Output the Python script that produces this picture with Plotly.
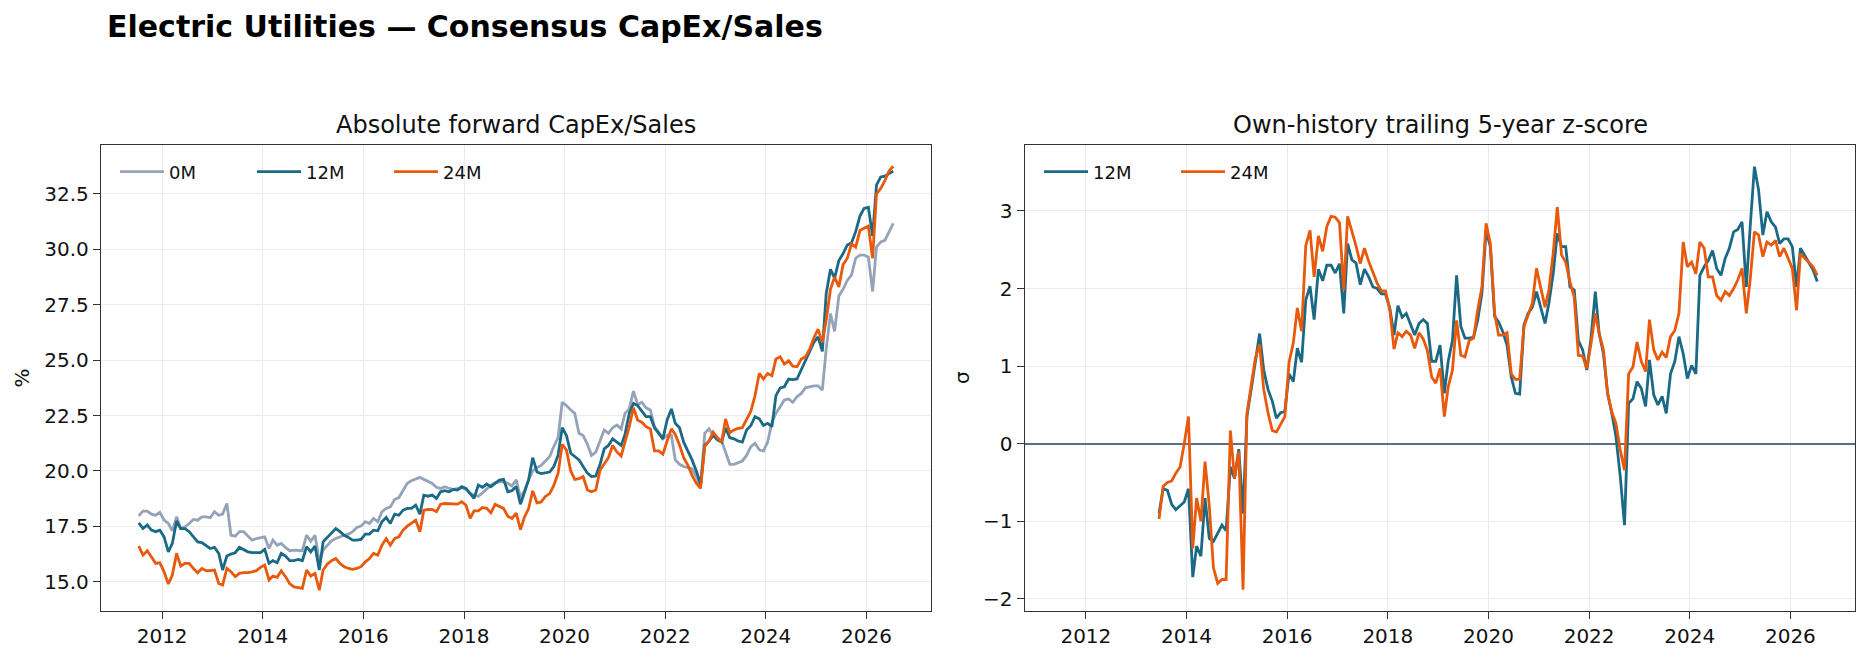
import plotly.graph_objects as go

# ---------------- data ----------------
start_year, start_month, n_months = 2011, 7, 181
dates = []
for i in range(n_months):
    mm = start_month - 1 + i
    dates.append(f"{start_year + mm // 12}-{mm % 12 + 1:02d}-15")

capex_0m = [
    17.98, 18.19, 18.19, 18.05, 18.0, 18.13, 17.78, 17.63, 17.3, 17.93,
    17.4, 17.48, 17.63, 17.81, 17.78, 17.93, 17.93, 17.89, 18.16, 18.0,
    18.05, 18.53, 17.1, 17.06, 17.26, 17.26, 17.06, 16.88, 16.95, 17.0,
    17.03, 16.5, 16.88, 16.65, 16.73, 16.55, 16.4, 16.43, 16.4, 16.4,
    17.1, 16.83, 17.1, 15.9, 16.43, 16.65, 16.85, 16.95, 17.03, 17.1,
    17.15, 17.26, 17.45, 17.51, 17.71, 17.63, 17.86, 17.71, 18.16, 18.31,
    18.38, 18.71, 18.8, 19.14, 19.44, 19.56, 19.62, 19.71, 19.62, 19.51,
    19.44, 19.26, 19.21, 19.29, 19.21, 19.17, 19.21, 19.24, 19.17, 18.98,
    18.91, 18.86, 19.01, 19.21, 19.36, 19.47, 19.51, 19.51, 19.44, 19.32,
    19.6, 18.8, 19.1, 19.6, 20.0, 20.15, 20.25, 20.45, 20.65, 21.1,
    21.5, 23.1, 22.95, 22.75, 22.6, 21.7, 21.6, 21.2, 20.7, 20.85,
    21.35, 21.85, 21.7, 21.95, 22.07, 21.9, 22.6, 22.8, 23.6, 23.0,
    23.1, 22.85, 22.75, 22.0, 21.75, 21.45, 21.6, 21.6, 20.5, 20.3,
    20.2, 20.15, 20.1, 19.75, 19.3, 21.7, 21.9, 21.6, 21.5, 21.35,
    20.8, 20.3, 20.3, 20.36, 20.45, 20.7, 21.1, 21.25, 20.95, 20.9,
    21.3, 22.2, 22.6, 22.9, 23.2, 23.25, 23.1, 23.35, 23.5, 23.75,
    23.8, 23.84, 23.84, 23.65, 25.5, 27.1, 26.3, 27.9, 28.2, 28.6,
    28.85, 29.6, 29.74, 29.74, 29.66, 28.1, 30.1, 30.34, 30.41, 30.79,
    31.17,
]

capex_12m = [
    17.66, 17.4, 17.56, 17.33, 17.26, 17.33, 17.03, 16.35, 16.73, 17.74,
    17.4, 17.4, 17.26, 17.03, 16.8, 16.77, 16.65, 16.5, 16.55, 16.28,
    15.53, 16.16, 16.25, 16.31, 16.55, 16.46, 16.35, 16.31, 16.31, 16.31,
    16.46, 15.83, 15.95, 15.86, 16.28, 16.16, 15.95, 15.95, 16.01, 15.95,
    16.58, 16.35, 16.61, 15.53, 16.8, 17.0, 17.21, 17.4, 17.26, 17.1,
    17.0, 16.88, 16.88, 16.91, 17.15, 17.15, 17.33, 17.3, 17.71, 17.9,
    17.63, 18.05, 18.0, 18.23, 18.31, 18.31, 18.46, 18.05, 18.91, 18.86,
    18.91, 18.76, 19.06, 19.11, 19.06, 19.17, 19.14, 19.29, 19.21, 18.98,
    18.76, 19.36, 19.26, 19.41, 19.29, 19.44, 19.59, 19.62, 19.06, 19.11,
    19.3, 18.5, 19.0, 19.6, 20.6, 19.95, 19.88, 19.92, 19.95, 20.2,
    20.7, 21.95, 21.6, 20.8, 20.65, 20.5, 20.2, 19.9, 19.75, 19.77,
    20.3, 21.0, 21.15, 21.45, 21.3, 21.15, 21.65, 22.6, 23.05, 22.95,
    22.7, 22.45, 22.45, 21.95, 21.7, 21.45, 22.3, 22.8, 22.15, 21.95,
    21.3, 20.9, 20.5, 20.0, 19.4, 21.15, 21.35, 21.6, 21.4, 21.3,
    21.95, 21.5, 21.45, 21.35, 21.3, 21.85, 22.05, 22.45, 22.35, 22.05,
    22.15, 22.0, 23.4, 23.75, 23.8, 24.15, 24.12, 24.15, 24.55, 24.95,
    25.4, 25.8, 26.05, 25.4, 28.0, 29.1, 28.7, 29.5, 29.8, 30.2,
    30.3, 30.8, 31.5, 31.85, 31.9, 30.6, 32.9, 33.27, 33.3, 33.42,
    33.53,
]

capex_24m = [
    16.61, 16.2, 16.4, 16.1, 15.83, 15.86, 15.45, 14.9, 15.3, 16.28,
    15.71, 15.83, 15.83, 15.6, 15.41, 15.6, 15.5, 15.5, 15.53, 14.92,
    14.85, 15.6, 15.45, 15.23, 15.38, 15.41, 15.41, 15.45, 15.5, 15.65,
    15.75, 15.08, 15.26, 15.2, 15.5, 15.23, 14.92, 14.77, 14.74, 14.7,
    15.53, 15.26, 15.38, 14.62, 15.53, 15.8, 15.95, 16.05, 15.83, 15.68,
    15.6, 15.56, 15.6, 15.68, 15.9, 16.05, 16.28, 16.2, 16.65, 16.95,
    16.65, 16.95, 17.03, 17.33, 17.51, 17.66, 17.78, 17.26, 18.23, 18.26,
    18.26, 18.16, 18.5, 18.53, 18.53, 18.53, 18.5, 18.61, 18.46, 17.86,
    18.2, 18.2, 18.35, 18.31, 18.11, 18.49, 18.38, 18.31, 17.96, 17.86,
    18.1, 17.35, 17.9, 18.3, 19.1, 18.56, 18.6, 18.85, 18.98, 19.35,
    19.89, 21.2, 20.94, 20.0, 19.62, 19.65, 19.75, 19.14, 19.06, 19.14,
    20.04, 20.3, 20.6, 21.15, 20.86, 20.67, 21.3, 22.0, 22.85, 22.29,
    22.2, 22.0, 21.9, 20.91, 20.91, 20.76, 21.35, 21.9, 21.65, 21.17,
    20.6, 20.25, 19.8, 19.45, 19.21, 21.1, 21.35, 21.75, 21.5, 21.3,
    22.35, 21.72, 21.85, 21.92, 21.95, 22.35, 22.7, 23.4, 24.4, 24.15,
    24.4, 24.3, 25.05, 25.15, 24.82, 24.97, 24.73, 24.7, 25.05, 25.15,
    25.5, 26.0, 26.4, 25.8, 26.8, 28.2, 28.75, 28.3, 29.3, 29.6,
    30.25, 30.1, 30.85, 30.95, 31.05, 29.6, 32.5, 32.75, 33.1, 33.55,
    33.75,
]

# z-scores begin at month index 23 (first full window)
z_start = 23
zscore_12m = [
    -0.9, -0.58, -0.6, -0.78, -0.85, -0.8, -0.75, -0.58, -1.72, -1.32,
    -1.45, -0.7, -1.22, -1.26, -1.15, -1.05, -1.12, -0.3, -0.45, -0.07,
    -0.9, 0.35, 0.7, 1.05, 1.42, 0.95, 0.7, 0.55, 0.33, 0.4,
    0.42, 0.9, 0.8, 1.23, 1.05, 1.85, 2.03, 1.6, 2.25, 2.1,
    2.3, 2.3, 2.2, 2.32, 1.68, 2.58, 2.37, 2.33, 2.05, 2.25,
    2.15, 2.02, 2.0, 1.93, 1.93, 1.75, 1.4, 1.78, 1.63, 1.68,
    1.55, 1.4, 1.55, 1.6, 1.55,
    1.06, 1.06, 1.27, 0.65, 1.06, 1.33, 2.17, 1.51, 1.36, 1.36,
    1.37, 1.59, 1.94, 2.75, 2.54, 1.64, 1.57, 1.44, 1.27, 0.86,
    0.65, 0.64, 1.53, 1.68, 1.76, 1.96, 1.76, 1.55, 1.81, 2.19,
    2.71, 2.54, 2.54, 2.02, 1.98, 1.33, 1.21, 0.95, 1.36, 1.96,
    1.42, 1.16, 0.65, 0.39, 0.09, -0.42, -1.05, 0.52, 0.58, 0.8,
    0.71, 0.48, 1.08, 0.63, 0.5, 0.61, 0.39, 0.9, 1.06, 1.38,
    1.16, 0.84, 1.01, 0.9, 2.17, 2.28, 2.36, 2.49, 2.26, 2.17,
    2.39, 2.52, 2.73, 2.76, 2.86, 2.02, 2.79, 3.57, 3.27, 2.69,
    2.99, 2.86, 2.79, 2.58, 2.64, 2.64, 2.54, 2.02, 2.52, 2.43,
    2.34, 2.24, 2.09,
]

zscore_24m = [
    -0.97, -0.55, -0.5, -0.48, -0.38, -0.3, 0.0, 0.35, -1.35, -0.7,
    -1.0, -0.23, -0.8, -1.6, -1.8, -1.75, -1.75, 0.17, -0.45, -0.1,
    -1.88, 0.39, 0.75, 1.1, 1.28, 0.7, 0.4, 0.17, 0.15, 0.25,
    0.35, 1.05, 1.3, 1.75, 1.45, 2.55, 2.75, 2.15, 2.68, 2.48,
    2.8, 2.93, 2.92, 2.85, 1.98, 2.93, 2.75, 2.55, 2.32, 2.52,
    2.35, 2.2, 2.07, 1.97, 1.97, 1.73, 1.22, 1.43, 1.38, 1.45,
    1.4, 1.23, 1.43, 1.35, 1.2,
    0.86, 0.78, 0.97, 0.35, 0.73, 0.95, 1.59, 1.14, 1.12, 1.33,
    1.36, 1.72, 2.02, 2.84, 2.58, 1.68, 1.4, 1.4, 1.43, 0.9,
    0.83, 0.83, 1.51, 1.66, 1.81, 2.26, 2.02, 1.76, 1.98, 2.45,
    3.05, 2.43, 2.34, 2.09, 1.89, 1.14, 1.13, 0.97, 1.29, 1.68,
    1.42, 1.21, 0.65, 0.41, 0.26, -0.08, -0.34, 0.9, 0.99, 1.31,
    1.06, 0.93, 1.6, 1.21, 1.08, 1.18, 1.11, 1.38, 1.46, 1.68,
    2.6, 2.28, 2.34, 2.19, 2.6, 2.52, 2.15, 2.15, 1.91, 1.85,
    1.96, 1.91, 2.0, 2.11, 2.26, 1.68, 2.11, 2.73, 2.69, 2.41,
    2.6, 2.56, 2.62, 2.41, 2.52, 2.39, 2.26, 1.72, 2.45, 2.39,
    2.34, 2.28, 2.17,
]

year_ticks = ["2012", "2014", "2016", "2018", "2020", "2022", "2024", "2026"]
series_names = ["0M", "12M", "24M"]

# ---------------- style ----------------
W, H = 1869, 659
FONT = "DejaVu Sans"
C0, C12, C24 = "#94a3b8", "#1a6985", "#e8590c"
ZERO_C = "#5f6e88"
SPINE = "#333333"
GRID = "#ebebeb"
LW = 2.8


def px_x(p):
    return p / W


def px_y(p):
    return 1 - p / H


z_dates = dates[z_start:]

fig = go.Figure()
fig.add_trace(go.Scatter(x=dates, y=capex_0m, name=series_names[0], mode="lines",
                         line=dict(color=C0, width=LW), xaxis="x", yaxis="y", legend="legend"))
fig.add_trace(go.Scatter(x=dates, y=capex_12m, name=series_names[1], mode="lines",
                         line=dict(color=C12, width=LW), xaxis="x", yaxis="y", legend="legend"))
fig.add_trace(go.Scatter(x=dates, y=capex_24m, name=series_names[2], mode="lines",
                         line=dict(color=C24, width=LW), xaxis="x", yaxis="y", legend="legend"))
fig.add_trace(go.Scatter(x=z_dates, y=zscore_12m, name=series_names[1], mode="lines",
                         line=dict(color=C12, width=LW), xaxis="x2", yaxis="y2", legend="legend2"))
fig.add_trace(go.Scatter(x=z_dates, y=zscore_24m, name=series_names[2], mode="lines",
                         line=dict(color=C24, width=LW), xaxis="x2", yaxis="y2", legend="legend2"))

tickfont = dict(family=FONT, size=20, color="#111111")
xr = ["2010-10-14", "2027-04-15"]
tickvals_x = [f"{t}-01-01" for t in year_ticks]

common_x = dict(type="date", range=xr, tickvals=tickvals_x, ticktext=year_ticks,
                showgrid=True, gridcolor=GRID, gridwidth=1.2,
                showline=True, mirror=True, linecolor=SPINE, linewidth=1.3,
                ticks="outside", ticklen=7, tickwidth=1.3, tickcolor=SPINE,
                tickfont=tickfont, zeroline=False)
common_y = dict(showgrid=True, gridcolor=GRID, gridwidth=1.2,
                showline=True, mirror=True, linecolor=SPINE, linewidth=1.3,
                ticks="outside", ticklen=7, tickwidth=1.3, tickcolor=SPINE,
                tickfont=tickfont)

legfont = dict(family=FONT, size=18, color="#111111")
ydom = [px_y(611), px_y(145)]
fig.update_layout(
    width=W, height=H,
    margin=dict(l=0, r=0, t=0, b=0),
    paper_bgcolor="white", plot_bgcolor="white",
    font=dict(family=FONT, color="#111111"),
    xaxis=dict(domain=[px_x(101), px_x(931)], anchor="y", **common_x),
    yaxis=dict(domain=ydom, anchor="x", range=[13.68, 34.71], dtick=2.5, tick0=0,
               tickformat=".1f", zeroline=False, **common_y),
    xaxis2=dict(domain=[px_x(1024.7), px_x(1855)], anchor="y2", **common_x),
    yaxis2=dict(domain=ydom, anchor="x2", range=[-2.156, 3.85], dtick=1, tick0=0,
                zeroline=True, zerolinecolor=ZERO_C, zerolinewidth=1.6, **common_y),
    legend=dict(orientation="h", x=px_x(115), y=px_y(172), xanchor="left", yanchor="middle",
                bgcolor="rgba(0,0,0,0)", font=legfont,
                itemwidth=44, entrywidth=78, entrywidthmode="pixels"),
    legend2=dict(orientation="h", x=px_x(1039), y=px_y(172), xanchor="left", yanchor="middle",
                 bgcolor="rgba(0,0,0,0)", font=legfont,
                 itemwidth=44, entrywidth=78, entrywidthmode="pixels"),
    showlegend=True,
)

annotations = [
    dict(text="<b>Electric Utilities — Consensus CapEx/Sales</b>", x=px_x(105), y=px_y(27),
         xanchor="left", yanchor="middle", font=dict(family=FONT, size=30, color="#000000")),
    dict(text="Absolute forward CapEx/Sales", x=px_x(516), y=px_y(125),
         xanchor="center", yanchor="middle", font=dict(family=FONT, size=24, color="#111111")),
    dict(text="Own-history trailing 5-year z-score", x=px_x(1440), y=px_y(125),
         xanchor="center", yanchor="middle", font=dict(family=FONT, size=24, color="#111111")),
    dict(text="%", x=px_x(21.5), y=px_y(378), textangle=-90,
         xanchor="center", yanchor="middle", font=dict(family=FONT, size=20, color="#111111")),
    dict(text="σ", x=px_x(962), y=px_y(378), textangle=-90,
         xanchor="center", yanchor="middle", font=dict(family=FONT, size=20, color="#111111")),
]
for a in annotations:
    a.update(xref="paper", yref="paper", showarrow=False)
fig.update_layout(annotations=annotations)

fig.write_html("out.html")
